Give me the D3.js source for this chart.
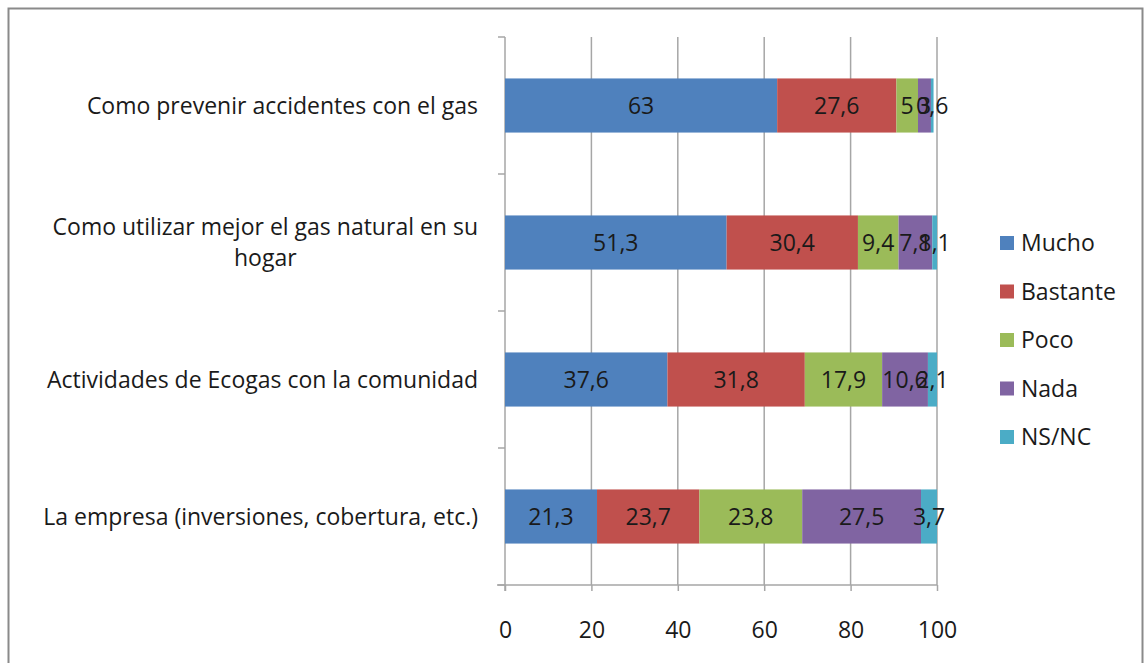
<!DOCTYPE html>
<html><head><meta charset="utf-8">
<script src="https://cdn.jsdelivr.net/npm/d3@7"></script>
<style>body{margin:0;background:#fff}svg{display:block}text{font-family:"Open Sans",sans-serif;fill:#1a1a1a}</style>
</head><body><svg id="c" width="1146" height="663"></svg>
<script>
const categories = [
  ["Como prevenir accidentes con el gas"],
  ["Como utilizar mejor el gas natural en su", "hogar"],
  ["Actividades de Ecogas con la comunidad"],
  ["La empresa (inversiones, cobertura, etc.)"]
];
const seriesNames = ["Mucho", "Bastante", "Poco", "Nada", "NS/NC"];
const mucho    = [63, 51.3, 37.6, 21.3];
const bastante = [27.6, 30.4, 31.8, 23.7];
const poco     = [5, 9.4, 17.9, 23.8];
const nada     = [3, 7.8, 10.6, 27.5];
const nsnc     = [0.6, 1.1, 2.1, 3.7];
const xTicks = [0, 20, 40, 60, 80, 100];
const colors = ["#4F81BD", "#C0504D", "#9BBB59", "#8064A2", "#4BACC6"];

const seriesVals = [mucho, bastante, poco, nada, nsnc];
const rows = categories.map((c, i) => {
  const o = {key: i};
  seriesNames.forEach((s, j) => o[s] = seriesVals[j][i]);
  return o;
});

const svg = d3.select("#c");
const L = 505, R = 937, T = 37, B = 585;
const FS = 23;
const x = d3.scaleLinear().domain([0, 100]).range([L, R]);
const y = d3.scaleBand().domain(d3.range(categories.length)).range([T, B]).paddingInner(0.605).paddingOuter(0.3025);
const fmt = v => String(v).replace(".", ",");

// outer border
svg.append("rect").attr("x", 8.5).attr("y", 8.5).attr("width", 1134).attr("height", 670)
  .attr("fill", "none").attr("stroke", "#8a8a8a").attr("stroke-width", 2);

// gridlines
svg.append("g").selectAll("line").data(xTicks.slice(1)).join("line")
  .attr("x1", d => x(d)).attr("x2", d => x(d)).attr("y1", T).attr("y2", B)
  .attr("stroke", "#a6a6a6").attr("stroke-width", 1.5);

// x axis
const xa = svg.append("g").attr("transform", `translate(0,${B})`)
  .call(d3.axisBottom(x).tickValues(xTicks).tickSize(6).tickPadding(31));
xa.select(".domain").remove();
xa.selectAll(".tick line").attr("stroke", "#a6a6a6").attr("stroke-width", 1.5);
xa.selectAll(".tick text").attr("font-size", FS).attr("font-family", "Open Sans").attr("fill", "#1a1a1a");
svg.append("line").attr("x1", L - 8).attr("x2", R).attr("y1", B).attr("y2", B)
  .attr("stroke", "#a6a6a6").attr("stroke-width", 1.5);

// y axis line and category ticks
svg.append("line").attr("x1", L).attr("x2", L).attr("y1", T).attr("y2", B + 6)
  .attr("stroke", "#a6a6a6").attr("stroke-width", 1.5);
const step = y.step();
const bounds = d3.range(categories.length + 1).map(i => T + i * step);
svg.append("g").selectAll("line").data(bounds).join("line")
  .attr("x1", L - 7).attr("x2", L).attr("y1", d => d).attr("y2", d => d)
  .attr("stroke", "#a6a6a6").attr("stroke-width", 1.5);

// stacked bars
const stack = d3.stack().keys(seriesNames)(rows);
const g = svg.append("g");
stack.forEach((layer, si) => {
  g.append("g").selectAll("rect").data(layer).join("rect")
    .attr("x", d => x(d[0])).attr("width", d => x(d[1]) - x(d[0]))
    .attr("y", (d, i) => y(i)).attr("height", y.bandwidth())
    .attr("fill", colors[si]);
});
stack.forEach((layer, si) => {
  g.append("g").selectAll("text").data(layer).join("text")
    .attr("x", d => (x(d[0]) + x(d[1])) / 2)
    .attr("y", (d, i) => y(i) + y.bandwidth() / 2)
    .attr("dy", "0.36em").attr("text-anchor", "middle").attr("font-size", FS)
    .text(d => fmt(+(d[1] - d[0]).toFixed(1)));
});

// category labels
categories.forEach((lines, i) => {
  const cy = y(i) + y.bandwidth() / 2;
  const lh = 31;
  const t = svg.append("text").attr("font-size", FS);
  lines.forEach((ln, k) => {
    t.append("tspan").attr("x", 0).attr("y", cy + (k - (lines.length - 1) / 2) * lh).attr("dy", "0.36em").text(ln);
  });
  if (lines.length === 1) {
    t.attr("text-anchor", "end").selectAll("tspan").attr("x", 478);
  } else {
    const w = d3.max(t.selectAll("tspan").nodes(), n => n.getComputedTextLength());
    t.attr("text-anchor", "middle").selectAll("tspan").attr("x", 478 - w / 2);
  }
});

// legend
const lg = svg.append("g");
seriesNames.forEach((s, i) => {
  const ly = 243 + i * 48.5;
  lg.append("rect").attr("x", 1000).attr("y", ly - 7).attr("width", 14).attr("height", 14).attr("fill", colors[i]);
  lg.append("text").attr("x", 1021).attr("y", ly).attr("dy", "0.36em").attr("font-size", FS).text(s);
});
</script></body></html>
